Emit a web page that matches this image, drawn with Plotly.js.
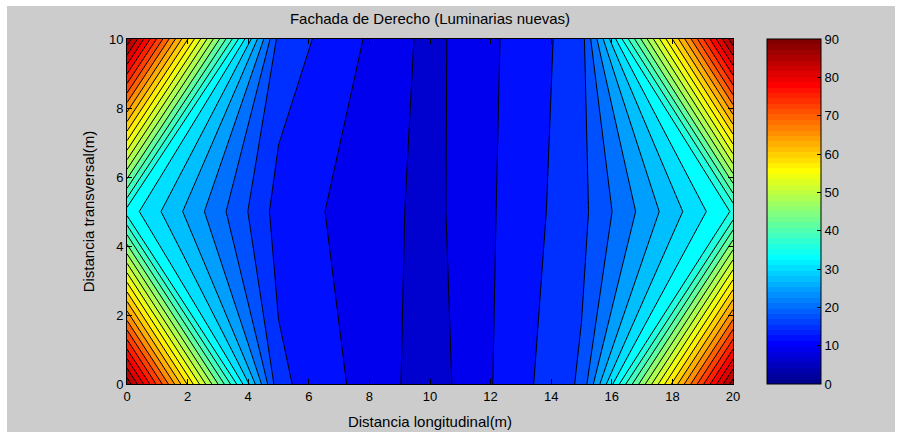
<!DOCTYPE html>
<html>
<head>
<meta charset="utf-8">
<script src="https://cdn.plot.ly/plotly-3.0.1.min.js"></script>
<style>
html,body{margin:0;padding:0;background:#ffffff;width:906px;height:432px;overflow:hidden;}
#chart{position:absolute;left:7px;top:6px;width:888px;height:426px;}
</style>
</head>
<body>
<div id="chart"></div>
<script>
// ---- data ----
const xDist = [0, 5, 10, 15, 20];
const yDist = [0, 5, 10];
const zAtY0  = [89, 15.75, 7.4, 18.5, 88.5];
const zAtY5  = [34.7, 13.75, 8.05, 17.1, 36.4];
const zAtY10 = [89, 17.0, 8.05, 16.6, 89];
const colorbarTicks = [0,10,20,30,40,50,60,70,80,90];
const titleText = 'Fachada de Derecho (Luminarias nuevas)';
const xTitleText = 'Distancia longitudinal(m)';
const yTitleText = 'Distancia transversal(m)';

// ---- MATLAB jet(64) colormap ----
function jetColor(i) { // i: 1..64
  const u = [];
  for (let k = 1; k <= 16; k++) u.push(k / 16);
  for (let k = 0; k < 15; k++) u.push(1);
  for (let k = 16; k >= 1; k--) u.push(k / 16);
  const get = (idx) => (idx >= 1 && idx <= u.length) ? u[idx - 1] : 0;
  const g = get(i - 8);
  const r = get(i - 24);
  const b = get(i + 8);
  return 'rgb(' + Math.round(r * 255) + ',' + Math.round(g * 255) + ',' + Math.round(b * 255) + ')';
}
const cMin = 0, cMax = 90;
const lvStart = 0, lvEnd = 87, lvSize = 3;
const nLevels = Math.floor((lvEnd - lvStart) / lvSize) + 1;

// contour fill colours: band above level L takes jet colour of L (MATLAB rule)
const fillScale = [];
for (let k = 0; k < nLevels; k++) {
  const L = lvStart + k * lvSize;
  let idx = Math.floor((L - cMin) / (cMax - cMin) * 64) + 1;
  idx = Math.max(1, Math.min(64, idx));
  const c = jetColor(idx);
  if (k === 0) fillScale.push([0, c]);
  fillScale.push([(k + 1) / nLevels, c]);
}

// stepped jet colour bar
const barScale = [];
for (let i = 1; i <= 64; i++) {
  const c = jetColor(i);
  barScale.push([(i - 1) / 64, c]);
  barScale.push([i === 64 ? 1 : i / 64 - 1e-9, c]);
}

const contourTrace = {
  type: 'contour',
  x: xDist,
  y: yDist,
  z: [zAtY0, zAtY5, zAtY10],
  autocontour: false,
  contours: {start: lvStart, end: lvEnd, size: lvSize, coloring: 'fill', showlines: true},
  line: {color: '#000000', width: 1, smoothing: 0},
  colorscale: fillScale,
  showscale: false,
  hoverinfo: 'skip'
};

const barTrace = {
  type: 'scatter',
  mode: 'markers',
  x: [10],
  y: [5],
  marker: {
    size: 1, opacity: 0, color: [0],
    cmin: cMin, cmax: cMax, colorscale: barScale, showscale: true,
    colorbar: {
      x: 1 + 34 / 606, xanchor: 'left', xpad: 0,
      y: 0.5, yanchor: 'middle', ypad: 0,
      len: 1, lenmode: 'fraction',
      thickness: 54, thicknessmode: 'pixels',
      outlinewidth: 1, outlinecolor: '#000000', borderwidth: 0,
      tickmode: 'array', tickvals: colorbarTicks, ticktext: colorbarTicks.map(String),
      ticks: 'inside', ticklen: 4, tickcolor: '#000000',
      tickfont: {family: 'Liberation Sans, Arial, sans-serif', size: 13, color: '#000000'}
    }
  },
  hoverinfo: 'skip',
  showlegend: false
};

const axisFont = {family: 'Liberation Sans, Arial, sans-serif', size: 13, color: '#000000'};
const titleFont = {family: 'Liberation Sans, Arial, sans-serif', size: 15, color: '#000000'};

const layout = {
  width: 888, height: 426,
  margin: {l: 120, r: 162, t: 33, b: 48, pad: 0},
  paper_bgcolor: '#cccccc',
  plot_bgcolor: '#cccccc',
  showlegend: false,
  title: {
    text: titleText,
    font: titleFont,
    xref: 'paper', x: 0.5, xanchor: 'center',
    yref: 'container', y: 1 - 13 / 426, yanchor: 'middle'
  },
  xaxis: {
    range: [0, 20], tickmode: 'linear', tick0: 0, dtick: 2,
    showgrid: false, zeroline: false,
    showline: true, linecolor: '#000000', linewidth: 1, mirror: 'allticks',
    ticks: 'inside', ticklen: 5, tickcolor: '#000000',
    tickfont: axisFont,
    title: {text: xTitleText, font: titleFont, standoff: 13}
  },
  yaxis: {
    range: [0, 10], tickmode: 'linear', tick0: 0, dtick: 2,
    showgrid: false, zeroline: false,
    showline: true, linecolor: '#000000', linewidth: 1, mirror: 'allticks',
    ticks: 'inside', ticklen: 5, tickcolor: '#000000',
    tickfont: axisFont,
    title: {text: yTitleText, font: titleFont, standoff: 10}
  }
};

Plotly.newPlot('chart', [contourTrace, barTrace], layout, {displayModeBar: false, staticPlot: true});
</script>
</body>
</html>
